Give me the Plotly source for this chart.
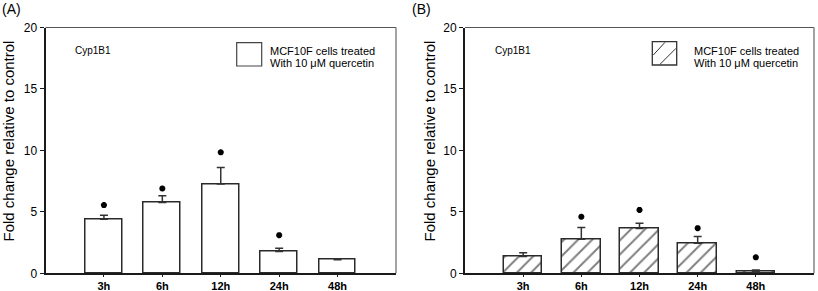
import plotly.graph_objects as go

W, H = 818, 291

categories = ["3h", "6h", "12h", "24h", "48h"]

# Panel A (open bars)
a_values = [4.40, 5.76, 7.26, 1.77, 1.11]
a_errors = [0.33, 0.54, 1.34, 0.27, 0.03]
a_stars = [5.55, 6.90, 9.84, 3.10, None]

# Panel B (hatched bars)
b_values = [1.36, 2.77, 3.64, 2.45, 0.13]
b_errors = [0.32, 0.95, 0.43, 0.54, 0.14]
b_stars = [None, 4.60, 5.16, 3.67, 1.30]

y_ticks = [0, 5, 10, 15, 20]
y_title = "Fold change relative to control"
legend_lines = ["MCF10F cells treated", "With 10 \u03bcM quercetin"]
gene = "Cyp1B1"

FONT = "Liberation Sans, Arial, sans-serif"
INK = "#1a1a1a"

def px(x):
    return x / W

def py(y):
    return 1 - y / H

fig = go.Figure()

star_marker = dict(symbol="asterisk-open", size=5, color="black",
                   line=dict(color="black", width=2))

# Panel A bars
fig.add_trace(go.Bar(
    x=categories, y=a_values, width=0.63,
    marker=dict(color="white", line=dict(color="#2a2a2a", width=1.5)),
    error_y=dict(type="data", symmetric=False, array=a_errors,
                 arrayminus=[0] * len(a_errors), color="#333", thickness=1.5, width=4),
    xaxis="x", yaxis="y", showlegend=False,
))
fig.add_trace(go.Scatter(
    x=categories, y=a_stars, mode="markers", marker=star_marker,
    xaxis="x", yaxis="y", showlegend=False,
))

# Panel B bars (hatched)
fig.add_trace(go.Bar(
    x=categories, y=b_values, width=0.66,
    marker=dict(color="white", line=dict(color="#2a2a2a", width=1.5),
                pattern=dict(shape="/", fgcolor="#000", bgcolor="white",
                             size=10, solidity=0.2)),
    error_y=dict(type="data", symmetric=False, array=b_errors,
                 arrayminus=[0] * len(b_errors), color="#333", thickness=1.5, width=4),
    xaxis="x2", yaxis="y2", showlegend=False,
))
fig.add_trace(go.Scatter(
    x=categories, y=b_stars, mode="markers", marker=star_marker,
    xaxis="x2", yaxis="y2", showlegend=False,
))

ydom = [py(273.3), py(27.5)]
xaxis_common = dict(
    type="category", range=[-1, 5], showgrid=False, zeroline=False,
    showline=True, linecolor=INK, linewidth=1.6, ticks="outside", ticklen=2,
    tickwidth=1, tickcolor=INK, automargin=False,
    tickfont=dict(family=FONT, size=11, color="black", weight="bold"),
)
yaxis_common = dict(
    range=[0, 20], tickvals=y_ticks, showgrid=False, zeroline=False,
    showline=True, linecolor=INK, linewidth=1.8, ticks="outside", ticklen=4,
    tickwidth=1, tickcolor=INK, automargin=False,
    tickfont=dict(family=FONT, size=12, color="black"),
)

fig.update_layout(
    width=W, height=H,
    margin=dict(l=0, r=0, t=0, b=0, pad=0, autoexpand=False),
    paper_bgcolor="white", plot_bgcolor="white",
    bargap=0,
    xaxis=dict(domain=[px(45.5), px(396)], anchor="y", **xaxis_common),
    yaxis=dict(domain=ydom, anchor="x", **yaxis_common),
    xaxis2=dict(domain=[px(465), px(814)], anchor="y2", **xaxis_common),
    yaxis2=dict(domain=ydom, anchor="x2", **yaxis_common),
)

shapes = []
# top and right frame lines (thinner, grey)
for (x0, x1) in [(45.5, 396), (465, 814)]:
    shapes.append(dict(type="line", xref="paper", yref="paper",
                       x0=px(x0), x1=px(x1), y0=py(27.5), y1=py(27.5),
                       line=dict(color="#555", width=1.2)))
    shapes.append(dict(type="line", xref="paper", yref="paper",
                       x0=px(x1), x1=px(x1), y0=py(27.5), y1=py(273.3),
                       line=dict(color="#666", width=1.2)))

# legend icons
shapes.append(dict(type="rect", xref="paper", yref="paper",
                   x0=px(236.7), x1=px(261.7), y0=py(66), y1=py(42.7),
                   line=dict(color="#444", width=1.2), fillcolor="white"))
shapes.append(dict(type="rect", xref="paper", yref="paper",
                   x0=px(652.3), x1=px(676.7), y0=py(65), y1=py(41.7),
                   line=dict(color="#333", width=1.3), fillcolor="white"))
for (x0, y0, x1, y1) in [(653.3, 55, 665, 42.3), (660, 64.3, 676, 48.3)]:
    shapes.append(dict(type="line", xref="paper", yref="paper",
                       x0=px(x0), y0=py(y0), x1=px(x1), y1=py(y1),
                       line=dict(color="#333", width=1)))

annotations = []
for (tx, gx, tag, tagx, titx) in [
    (268.3, 72.7, "(A)", 0, 8),
    (691.7, 493.3, "(B)", 410, 429),
]:
    annotations.append(dict(text=legend_lines[0], x=px(tx), y=py(50.5), xref="paper", yref="paper",
                            xanchor="left", yanchor="middle", showarrow=False,
                            font=dict(family=FONT, size=11, color="black")))
    annotations.append(dict(text=legend_lines[1], x=px(tx), y=py(63), xref="paper", yref="paper",
                            xanchor="left", yanchor="middle", showarrow=False,
                            font=dict(family=FONT, size=11, color="black")))
    annotations.append(dict(text=gene, x=px(gx), y=py(50.5), xref="paper", yref="paper",
                            xanchor="left", yanchor="middle", showarrow=False,
                            font=dict(family=FONT, size=10, color="black")))
    annotations.append(dict(text=tag, x=px(tagx), y=py(9), xref="paper", yref="paper",
                            xanchor="left", yanchor="middle", showarrow=False,
                            font=dict(family=FONT, size=14, color="black")))
    annotations.append(dict(text=y_title, x=px(titx), y=py(141.5), xref="paper", yref="paper",
                            xanchor="center", yanchor="middle", showarrow=False, textangle=-90,
                            font=dict(family=FONT, size=15, color="black")))

fig.update_layout(shapes=shapes, annotations=annotations)

fig.write_html(
    "out.html",
    config={"displayModeBar": False},
    post_script="document.body.style.margin='0';document.body.style.padding='0';",
)
